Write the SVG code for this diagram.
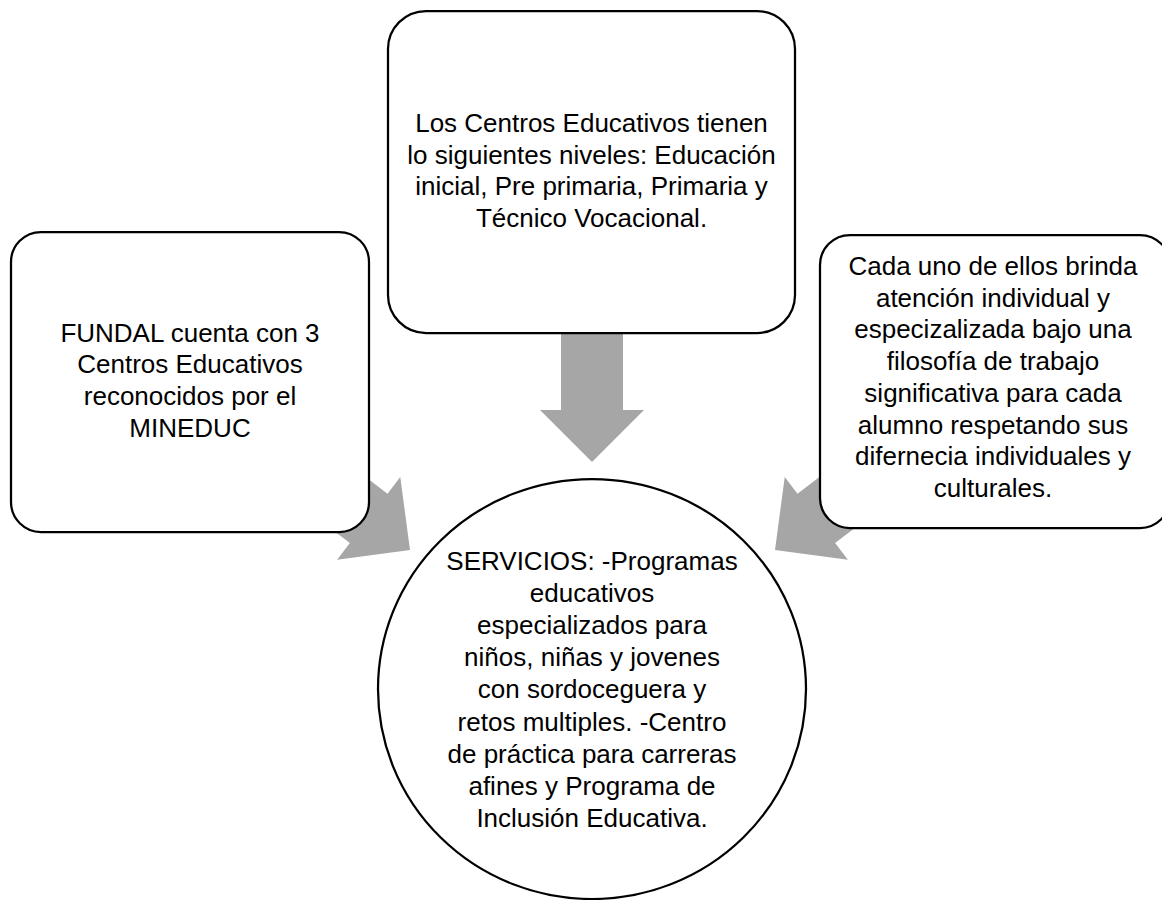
<svg xmlns="http://www.w3.org/2000/svg" width="1162" height="900" viewBox="0 0 1162 900">
<style>
.box{fill:#ffffff;stroke:#000000;stroke-width:2.25}
.arrow{fill:#a6a6a6;stroke:none}
text{font-family:"Liberation Sans",Arial,sans-serif;font-size:26px;fill:#000000;text-anchor:middle}
</style>
<defs>
<polygon id="diagArrow" class="arrow" points="-160,-31 -52,-31 -52,-52 0,0 -52,52 -52,31 -160,31"/>
</defs>
<rect x="0" y="0" width="1162" height="900" fill="#ffffff"/>
<g id="connectors">
<polygon class="arrow" points="561,320 623,320 623,410 644,410 592,462 540,410 561,410"/>
<use href="#diagArrow" transform="translate(410,550) rotate(37.4)"/>
<use href="#diagArrow" transform="translate(775,550) rotate(142.6)"/>
</g>
<g id="node-top">
<rect class="box" x="388" y="11" width="407" height="322" rx="38" ry="38"/>
<text x="591.5" y="132">Los Centros Educativos tienen</text>
<text x="591.5" y="163.7">lo siguientes niveles: Educación</text>
<text x="591.5" y="195.4">inicial, Pre primaria, Primaria y</text>
<text x="591.5" y="227.1">Técnico Vocacional.</text>
</g>
<g id="node-left">
<rect class="box" x="11" y="232" width="358" height="300" rx="30" ry="30"/>
<text x="190" y="341.7">FUNDAL cuenta con 3</text>
<text x="190" y="373.4">Centros Educativos</text>
<text x="190" y="405.1">reconocidos por el</text>
<text x="190" y="436.8">MINEDUC</text>
</g>
<g id="node-right">
<rect class="box" x="820" y="235" width="350" height="293" rx="30" ry="30"/>
<text x="993" y="275">Cada uno de ellos brinda</text>
<text x="993" y="306.7">atención individual y</text>
<text x="993" y="338.4">especizalizada bajo una</text>
<text x="993" y="370.1">filosofía de trabajo</text>
<text x="993" y="401.8">significativa para cada</text>
<text x="993" y="433.5">alumno respetando sus</text>
<text x="993" y="465.2">difernecia individuales y</text>
<text x="993" y="496.9">culturales.</text>
</g>
<g id="node-center">
<ellipse class="box" cx="592" cy="689" rx="214" ry="210"/>
<text x="592" y="570">SERVICIOS: -Programas</text>
<text x="592" y="602">educativos</text>
<text x="592" y="634">especializados para</text>
<text x="592" y="666">niños, niñas y jovenes</text>
<text x="592" y="698">con sordoceguera y</text>
<text x="592" y="730.5">retos multiples. -Centro</text>
<text x="592" y="763">de práctica para carreras</text>
<text x="592" y="795">afines y Programa de</text>
<text x="592" y="827">Inclusión Educativa.</text>
</g>
</svg>
